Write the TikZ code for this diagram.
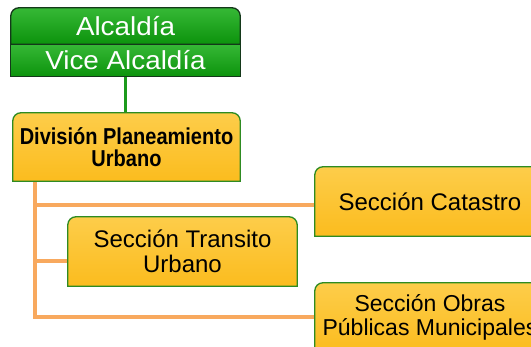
\documentclass[tikz,border=0pt]{standalone}
\usepackage{fontspec}
\setmainfont{Liberation Sans}
\newfontfamily\narrowfont{Liberation Sans}[FakeStretch=0.87]
\newfontfamily\widefont{Liberation Sans}[FakeStretch=1.07]
\usetikzlibrary{positioning,backgrounds}

\definecolor{boxyellow}{HTML}{FBBC1E}
\definecolor{boxyellowtop}{HTML}{FDCD4A}
\definecolor{boxgreen}{HTML}{2E8B22}
\definecolor{headgreen}{HTML}{0C930C}
\definecolor{headgreentop}{HTML}{36B836}
\definecolor{headborder}{HTML}{14381A}
\definecolor{linkorange}{HTML}{F8A95E}
\definecolor{linkgreen}{HTML}{1C9A1C}

\tikzset{
	head/.style={minimum width=229pt, inner sep=0pt, text=white, font=\widefont\fontsize{26}{26}\selectfont},
	unit/.style={minimum width=229pt, minimum height=69pt, inner sep=0pt, align=center, font=\fontsize{24}{25}\selectfont},
	outline/.style={draw=boxgreen, line width=1.3pt, top color=boxyellowtop, bottom color=boxyellow},
	headline/.style={draw=headborder, line width=1.3pt, top color=headgreentop, bottom color=headgreen},
	orangelink/.style={draw=linkorange, line width=4pt},
	greenlink/.style={draw=linkgreen, line width=3pt}
}

\begin{document}
\begin{tikzpicture}[x=1pt, y=1pt]
	\useasboundingbox (0,0) rectangle (531,-347);
	\clip (0,0) rectangle (531,-347);

	% Nodes {alc, vice, div, catastro, transito, obras}
	\node [head, minimum height=36pt]	(alc)		at (125.5,-26)	{Alcaldía};
	\node [head, minimum height=32pt]	(vice)		[below=0pt of alc]	{Vice Alcaldía};
	\node [unit, minimum width=227pt, minimum height=68pt, font=\narrowfont\bfseries\fontsize{23}{22}\selectfont]
										(div)		at (126.5,-147)	{División Planeamiento\\Urbano};
	\node [unit, minimum width=230pt]	(catastro)	at (430,-201.5)	{Sección Catastro};
	\node [unit]						(transito)	at (182.5,-251.5)	{Sección Transito\\Urbano};
	\node [unit, minimum width=230pt, font=\fontsize{23}{24}\selectfont]
										(obras)		at (430,-317.5)	{Sección Obras\\Públicas Municipales};
	\coordinate (trunk) at (35,0);

	\begin{scope}[on background layer]
		% Paths
		\path [greenlink]	(vice.south) -- (vice.south |- div.north);
		\path [orangelink]	(div.south -| trunk) |- ([yshift=-3.5pt]catastro.west);
		\path [orangelink]	(div.south -| trunk) |- ([yshift=-9.5pt]transito.west);
		\path [orangelink]	(div.south -| trunk) |- (obras.west);

		% Boxes
		\path [headline] (alc.south west) -- ([yshift=-8pt]alc.north west) arc[start angle=180, end angle=90, radius=8pt]
			-- ([xshift=-8pt]alc.north east) arc[start angle=90, end angle=0, radius=8pt] -- (alc.south east) -- cycle;
		\path [headline] (vice.south west) rectangle (vice.north east);
		\foreach \n in {div, catastro, transito, obras}
			\path [outline] (\n.south west) -- ([yshift=-8pt]\n.north west) arc[start angle=180, end angle=90, radius=8pt]
				-- ([xshift=-8pt]\n.north east) arc[start angle=90, end angle=0, radius=8pt] -- (\n.south east) -- cycle;
	\end{scope}
\end{tikzpicture}
\end{document}
